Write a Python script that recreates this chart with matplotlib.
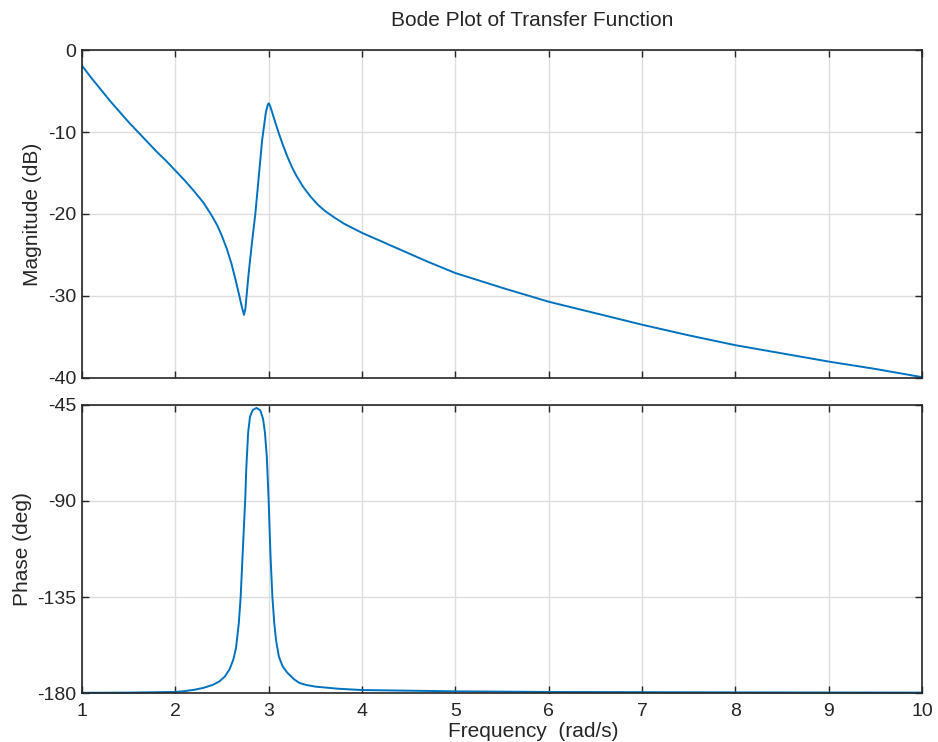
import matplotlib
matplotlib.use("Agg")
import matplotlib.pyplot as plt

plt.rcParams['font.family'] = ['Liberation Sans', 'DejaVu Sans']
plt.rcParams['axes.unicode_minus'] = False

# magnitude curve
mag_w = [1.0, 1.1, 1.2, 1.3, 1.4, 1.5, 1.6, 1.7, 1.8, 1.9, 2.0, 2.1, 2.2, 2.3,
         2.38, 2.45, 2.5, 2.55, 2.6, 2.645, 2.68, 2.71, 2.735, 2.75, 2.786,
         2.82, 2.857, 2.93, 2.97, 2.99, 3.0, 3.015, 3.04, 3.07, 3.11, 3.15, 3.2,
         3.25, 3.3, 3.37, 3.45, 3.53, 3.6, 3.7, 3.81, 4.0, 4.2, 4.4, 4.7, 5.0,
         5.5, 6.0, 6.5, 7.0, 7.5, 8.0, 8.5, 9.0, 9.5, 10.0]
mag_db = [-1.9, -3.4, -4.8, -6.2, -7.5, -8.8, -10.0, -11.2, -12.4, -13.5, -14.7,
          -15.9, -17.2, -18.6, -20.0, -21.4, -22.7, -24.2, -26.0, -28.0, -29.7,
          -31.2, -32.3, -31.6, -27.2, -23.6, -20.0, -11.0, -7.6, -6.7, -6.5,
          -6.8, -7.7, -8.8, -10.2, -11.5, -13.0, -14.3, -15.4, -16.7, -17.9,
          -18.9, -19.6, -20.4, -21.2, -22.3, -23.3, -24.3, -25.8, -27.2, -29.0,
          -30.7, -32.1, -33.5, -34.8, -36.0, -37.0, -38.0, -38.9, -39.9]

# phase curve
ph_w = [1.0, 1.5, 2.0, 2.1, 2.2, 2.3, 2.4, 2.47, 2.53, 2.58, 2.62, 2.65, 2.68,
        2.70, 2.72, 2.735, 2.75, 2.76, 2.78, 2.80, 2.83, 2.87, 2.91, 2.94, 2.96,
        2.98, 3.0, 3.02, 3.04, 3.06, 3.08, 3.11, 3.15, 3.2, 3.27, 3.33, 3.4,
        3.5, 3.75, 4.0, 5.0, 6.0, 8.0, 10.0]
ph_deg = [-179.9, -179.8, -179.5, -179.1, -178.5, -177.6, -176.2, -174.6,
          -172.3, -169.0, -164.5, -159.0, -147.3, -135.0, -116.0, -102.0, -88.0,
          -75.0, -58.0, -50.5, -47.3, -46.4, -47.5, -51.5, -58.0, -69.2, -90.0,
          -116.0, -135.0, -147.3, -155.5, -163.0, -167.5, -170.5, -173.5,
          -175.3, -176.2, -177.0, -178.0, -178.6, -179.2, -179.5, -179.7, -179.8]

mag_ticks = [-40, -30, -20, -10, 0]
ph_ticks = [-180, -135, -90, -45]
freq_ticks = [1, 2, 3, 4, 5, 6, 7, 8, 9, 10]

line_color = '#0072BD'
txt = '#262626'
fs_tick = 14
fs_lab = 15

fig = plt.figure(figsize=(9.38, 7.42), dpi=100)
ax1 = fig.add_axes([0.0874, 0.4906, 0.8956, 0.442])
ax2 = fig.add_axes([0.0874, 0.066, 0.8956, 0.3882])

ax1.plot(mag_w, mag_db, color=line_color, linewidth=1.4)
ax2.plot(ph_w, ph_deg, color=line_color, linewidth=1.4, clip_on=False)

for ax in (ax1, ax2):
    ax.set_xlim(1, 10)
    ax.set_xticks(freq_ticks)
    ax.grid(True, color='#dedede', linewidth=1.0)
    ax.set_axisbelow(True)
    ax.tick_params(direction='in', top=True, right=True, length=5, width=1.0,
                   labelsize=fs_tick, colors=txt, pad=4)
    for sp in ax.spines.values():
        sp.set_linewidth(1.2)
        sp.set_color(txt)

ax1.set_ylim(-40, 0)
ax1.set_yticks(mag_ticks)
ax1.tick_params(labelbottom=False)
ax1.set_ylabel('Magnitude (dB)', fontsize=fs_lab, color=txt)
ax1.yaxis.set_label_coords(-0.048, 0.5)
# title sits a bit right of the axes centre in the original
fig.text(532 / 938, 1 - 20 / 742, 'Bode Plot of Transfer Function',
         fontsize=fs_lab, color=txt, ha='center', va='center')

ax2.set_ylim(-180, -45)
ax2.set_yticks(ph_ticks)
ax2.tick_params(axis='x', pad=7)
ax2.set_ylabel('Phase (deg)', fontsize=fs_lab, color=txt)
ax2.yaxis.set_label_coords(-0.060, 0.5)
ax2.set_xlabel('Frequency  (rad/s)', fontsize=fs_lab, color=txt)
ax2.xaxis.set_label_coords((533 - 82) / 840, (693 - 722) / 288)
ax2.xaxis.label.set_va('top')

fig.savefig('out.png', dpi=100)
